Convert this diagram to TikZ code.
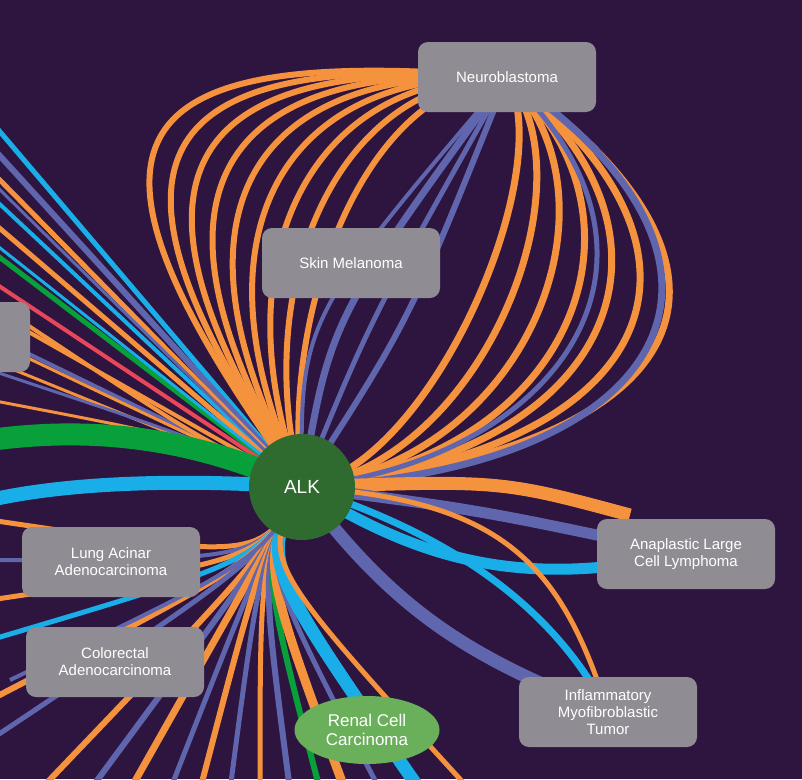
\documentclass[tikz,border=0pt]{standalone}
\usepackage{fontspec}
\setmainfont{Liberation Sans}
\usetikzlibrary{shapes.geometric}
\begin{document}
\begin{tikzpicture}[x=1pt,y=-1pt,
  lab/.style={fill=boxgray,rounded corners=10pt,text=white,font=\fontsize{15}{17}\selectfont,align=center,minimum width=178pt,minimum height=70pt,inner sep=2pt},
  e/.style={line width=#1, line cap=butt},
]
\definecolor{bg}{HTML}{2E1540}
\definecolor{org}{HTML}{F5923E}
\definecolor{blu}{HTML}{5F66AE}
\definecolor{cya}{HTML}{1AAEE8}
\definecolor{grn}{HTML}{07A03A}
\definecolor{red}{HTML}{E8475A}
\definecolor{boxgray}{HTML}{8F8D93}
\definecolor{alkg}{HTML}{2F6B2F}
\definecolor{renal}{HTML}{6AAF5A}
\fill[bg] (0,0) rectangle (802,779);
\useasboundingbox (0,0) rectangle (802,779);
\clip (0,0) rectangle (802,779);
\coordinate (alk) at (302,487);
\coordinate (neuro) at (507,77);
\coordinate (anap) at (686,554);
\coordinate (inf) at (608,712);
% upper-left bundle
\foreach \c/\w/\dy in {cya/5/0,blu/6/25,org/5/50,cya/4/75,org/5/100,grn/5/130,red/4/160,org/4/190,blu/4/215,org/3/240,cya/3/120,blu/3/60}{
  \coordinate (ul) at (-10,120+\dy);
  \draw[\c,e=\w] (alk) -- (ul);
}
\foreach \c/\w/\y in {org/4/300,org/3/340,blu/3/370,org/3/400}{
  \coordinate (ll) at (-10,\y);
  \draw[\c,e=\w] (alk) .. controls (200,440) .. (ll);
}
\coordinate (g1) at (-10,440);
\draw[grn,e=22] (alk) .. controls (200,440) and (100,425) .. (g1);
\coordinate (c1) at (-10,500);
\draw[cya,e=14] (alk) .. controls (200,480) and (80,480) .. (c1);
% lower-left rays
\foreach \c/\w/\x/\y in {org/5/-10/520,blu/4/-10/560,org/5/-10/600,cya/5/-10/640,org/6/-10/700,blu/5/-10/740,org/6/40/790,blu/6/90/790,org/7/130/790,blu/5/170/790,org/6/200/790,blu/5/230/790,org/5/260/790,blu/6/290/790,grn/6/320/790,org/9/345/790,blu/5/380/790,cya/13/420/790,org/5/470/790,blu/4/10/680}{
  \coordinate (lr) at (\x,\y);
  \draw[\c,e=\w] (alk) .. controls (260,560) .. (lr);
}
% neuroblastoma loops left
\foreach \i in {0,...,8}{
  \draw[org,e=6] (alk) .. controls ({280-30*\i},{320-24*\i}) and ({360-30*\i},{85-5*\i}) .. (neuro);
}
% blue straight to neuro
\foreach \dx/\w in {0/7,40/5,80/6,-30/4}{
  \draw[blu,e=\w] (alk) .. controls ({330+\dx},320) .. (neuro);
}
% right loops
\foreach \i in {0,...,6}{
  \draw[org,e=7] (alk) .. controls ({430+50*\i},{470-4*\i}) and ({560+34*\i},{170+14*\i}) .. (neuro);
}
\draw[blu,e=7] (alk) .. controls (680,470) and (780,260) .. (neuro);
\draw[blu,e=5] (alk) .. controls (560,460) and (700,260) .. (neuro);
% to anaplastic
\coordinate (ta) at (630,515);
\draw[org,e=13] (alk) .. controls (500,480) .. (ta);
\draw[blu,e=11] (alk) .. controls (480,510) .. (anap);
\draw[cya,e=11] (alk) .. controls (420,560) and (520,590) .. (anap);
\draw[org,e=5] (alk) .. controls (500,500) and (560,560) .. (inf);
\draw[cya,e=7] (alk) .. controls (470,540) and (560,620) .. (inf);
\draw[blu,e=13] (alk) .. controls (400,620) and (480,660) .. (inf);
% nodes
\node[lab] (n) at (neuro) {Neuroblastoma};
\node[lab] (s) at (351,263) {Skin Melanoma};
\node[lab,minimum width=60pt] (lp) at (0,337) {};
\node[lab] (l) at (111,562) {Lung Acinar\\Adenocarcinoma};
\node[lab] (cr) at (115,662) {Colorectal\\Adenocarcinoma};
\node[lab] (a) at (anap) {Anaplastic Large\\Cell Lymphoma};
\node[lab] (i) at (inf) {Inflammatory\\Myofibroblastic\\Tumor};
\node[ellipse,fill=renal,text=white,minimum width=145pt,minimum height=68pt,inner sep=0pt,align=center,font=\fontsize{17}{19}\selectfont] (r) at (367,730) {Renal Cell\\Carcinoma};
\node[circle,fill=alkg,minimum size=106pt,text=white,font=\fontsize{19}{21}\selectfont] (k) at (alk) {ALK};
\end{tikzpicture}
\end{document}
